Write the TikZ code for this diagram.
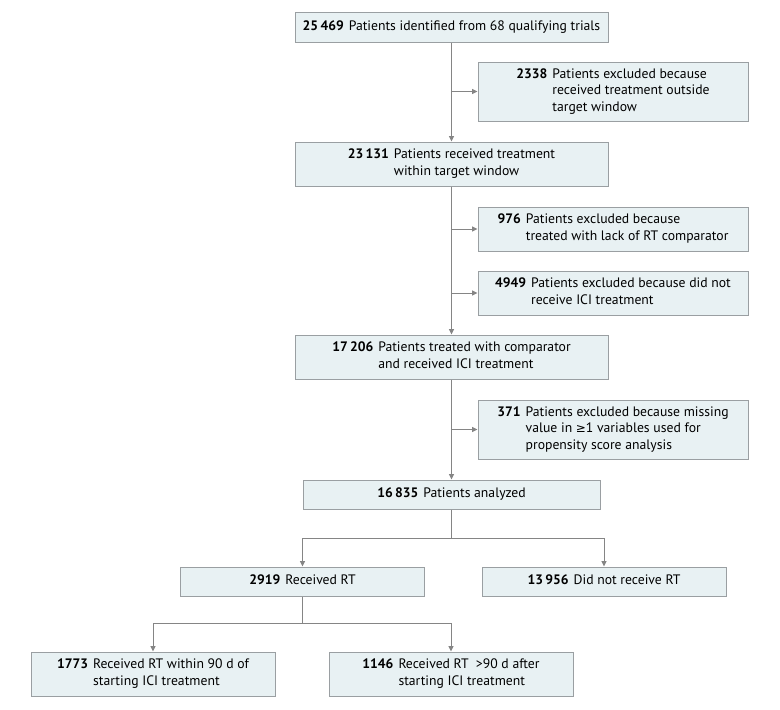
\documentclass[tikz,border=0pt]{standalone}
\usepackage{fontspec}
\setmainfont{PT Sans}
\newfontfamily\symfont{DejaVu Sans}
\usetikzlibrary{arrows.meta}

\definecolor{boxfill}{HTML}{E8F1F3}
\definecolor{boxline}{HTML}{9A9FA2}
\definecolor{arrline}{HTML}{858585}

\newcommand{\flowtext}[2]{\begin{tabular}{@{}r@{\hspace{5pt}}l@{}}\textbf{#1} & #2\end{tabular}}

\tikzset{
    flowbox/.style={draw=boxline, fill=boxfill, line width=1pt, inner sep=0pt,
        font=\fontsize{13.7}{16.7}\selectfont, align=left},
    mainbox/.style={flowbox, minimum width=313pt, minimum height=44pt},
    exclbox/.style={flowbox, minimum width=270pt},
    armbox/.style={flowbox, minimum width=244pt},
    arr/.style={-{Triangle[length=5.5pt,width=5pt,fill=arrline]}, draw=arrline, line width=0.9pt},
    flowline/.style={draw=arrline, line width=0.9pt}
}

\begin{document}
\begin{tikzpicture}[x=1pt, y=-1pt]
        \useasboundingbox[fill=white] (0, 0) rectangle (780, 710);

        % main column
        \node[mainbox, minimum height=30pt] (ident) at (451.5, 27) {\flowtext{25\,469}{Patients identified from 68 qualifying trials}};
        \node[mainbox] (window) at (451.5, 164) {\flowtext{23\,131}{Patients received treatment\\ & within target window}};
        \node[mainbox] (compar) at (451.5, 357) {\flowtext{17\,206}{Patients treated with comparator\\ & and received ICI treatment}};
        \node[flowbox, minimum width=297pt, minimum height=29pt] (analyzed) at (451.5, 494.5) {\flowtext{16\,835}{Patients analyzed}};

        % exclusions
        \node[exclbox, minimum height=59pt] (exclA) at (613, 91.5) {\flowtext{2338}{Patients excluded because\\ & received treatment outside\\ & target window}};
        \node[exclbox, minimum height=44pt] (exclB) at (613, 229) {\flowtext{976}{Patients excluded because\\ & treated with lack of RT comparator}};
        \node[exclbox, minimum height=44pt] (exclC) at (613, 293) {\flowtext{4949}{Patients excluded because did not\\ & receive ICI treatment}};
        \node[exclbox, minimum height=59pt] (exclD) at (613, 429.5) {\flowtext{371}{Patients excluded because missing\\ & value in {\symfont\fontsize{12}{16.7}\selectfont ≥}1 variables used for\\ & propensity score analysis}};

        % arms
        \node[armbox, minimum height=29pt] (rt) at (302.5, 581.5) {\flowtext{2919}{Received RT}};
        \node[armbox, minimum height=29pt] (nort) at (604, 581.5) {\flowtext{13\,956}{Did not receive RT}};
        \node[armbox, minimum height=44pt] (early) at (153, 674) {\flowtext{1773}{Received RT within 90 d of\\ & starting ICI treatment}};
        \node[armbox, minimum height=44pt] (late) at (451, 674) {\flowtext{1146}{Received RT \ >90 d after\\ & starting ICI treatment}};

        % connectors
        \draw[arr] (ident) -- (window);
        \draw[arr] (ident.south |- exclA.west) -- (exclA.west);
        \draw[arr] (window) -- (compar);
        \draw[arr] (window.south |- exclB.west) -- (exclB.west);
        \draw[arr] (window.south |- exclC.west) -- (exclC.west);
        \draw[arr] (compar) -- (analyzed);
        \draw[arr] (compar.south |- exclD.west) -- (exclD.west);

        \coordinate (splitA) at (451.5, 538);
        \draw[flowline] (analyzed.south) -- (splitA);
        \draw[arr] (splitA) -| (rt.north);
        \draw[arr] (splitA) -| (nort.north);

        \coordinate (splitB) at (302.5, 623);
        \draw[flowline] (rt.south) -- (splitB);
        \draw[arr] (splitB) -| (early.north);
        \draw[arr] (splitB) -| (late.north);
    \end{tikzpicture}
\end{document}
